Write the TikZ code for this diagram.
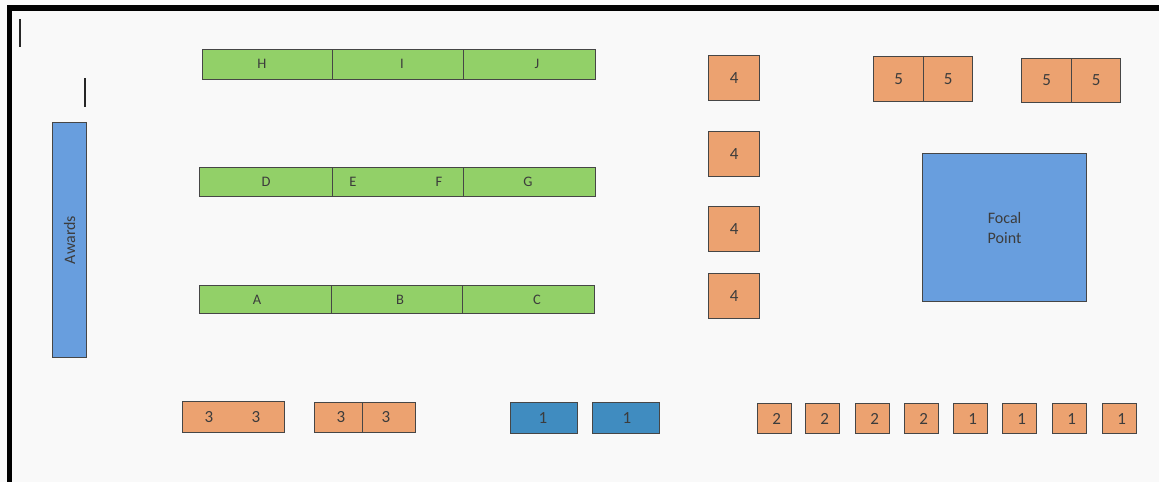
\documentclass[tikz,border=0pt]{standalone}
\usepackage{fontspec}
\setmainfont{Carlito}
\definecolor{grn}{RGB}{146,208,104}
\definecolor{org}{RGB}{236,162,112}
\definecolor{lblue}{RGB}{104,158,222}
\definecolor{dblue}{RGB}{64,140,192}
\definecolor{edge}{RGB}{70,70,70}
\definecolor{txt}{RGB}{60,60,60}
\definecolor{paper}{RGB}{249,249,249}
\begin{document}
\begin{tikzpicture}[x=1pt,y=-1pt,
  cell/.style={draw=edge, line width=1.1pt, inner sep=0pt, anchor=north west},
  lbl/.style={text=txt, inner sep=0pt, font=\fontsize{14.5}{16}\selectfont},
  num/.style={text=txt, inner sep=0pt, font=\fontsize{17}{19}\selectfont},
  big/.style={text=txt, inner sep=0pt, align=center, font=\fontsize{16}{20}\selectfont},
]
\fill[paper] (0,0) rectangle (1159,482);
\useasboundingbox (0,0) rectangle (1159,482);
% frame
\fill[black] (7,5) rectangle (1159,11);
\fill[black] (7,5) rectangle (12,482);
\coordinate (m1a) at (20,19); \coordinate (m1b) at (20,47);
\coordinate (m2a) at (85,78); \coordinate (m2b) at (85,107);
\draw[line width=1.2pt, black!85] (m1a) -- (m1b);
\draw[line width=1.2pt, black!85] (m2a) -- (m2b);

% Awards
\node[cell, fill=lblue, minimum width=34, minimum height=235] (awards) at (52,122) {};
\node[big, rotate=90] (awardsl) at (awards.center) {Awards};

% H I J
\node[cell, fill=grn, minimum width=130, minimum height=30] (h) at (202,49) {};
\node[cell, fill=grn, minimum width=131, minimum height=30] (i) at (332,49) {};
\node[cell, fill=grn, minimum width=132, minimum height=30] (j) at (463,49) {};
\node[lbl] (hl) at (262,64) {H};
\node[lbl] (il) at (402,64) {I};
\node[lbl] (jl) at (537,64) {J};

% D EF G
\node[cell, fill=grn, minimum width=133, minimum height=29] (d) at (199,167) {};
\node[cell, fill=grn, minimum width=131, minimum height=29] (ef) at (332,167) {};
\node[cell, fill=grn, minimum width=132, minimum height=29] (g) at (463,167) {};
\node[lbl] (dl) at (266,182) {D};
\node[lbl] (el) at (353,182) {E};
\node[lbl] (fl) at (439,182) {F};
\node[lbl] (gl) at (528,182) {G};

% A B C
\node[cell, fill=grn, minimum width=132, minimum height=28] (a) at (199,285) {};
\node[cell, fill=grn, minimum width=131, minimum height=28] (b) at (331,285) {};
\node[cell, fill=grn, minimum width=132, minimum height=28] (c) at (462,285) {};
\node[lbl] (al) at (257,300) {A};
\node[lbl] (bl) at (400,300) {B};
\node[lbl] (cl) at (537,300) {C};

% 4 column
\node[cell, fill=org, minimum width=51, minimum height=45] (f1) at (708,55) {};
\node[cell, fill=org, minimum width=51, minimum height=45] (f2) at (708,131) {};
\node[cell, fill=org, minimum width=51, minimum height=45] (f3) at (708,206) {};
\node[cell, fill=org, minimum width=51, minimum height=45] (f4) at (708,273) {};
\foreach \n in {f1,f2,f3,f4} \node[num] (\n l) at (\n.center) {4};

% 5 pairs
\node[cell, fill=org, minimum width=50, minimum height=45] (p1) at (873,56) {};
\node[cell, fill=org, minimum width=49, minimum height=45] (p2) at (923,56) {};
\node[cell, fill=org, minimum width=50, minimum height=44] (p3) at (1021,58) {};
\node[cell, fill=org, minimum width=49, minimum height=44] (p4) at (1071,58) {};
\foreach \n in {p1,p2,p3,p4} \node[num] (\n l) at (\n.center) {5};

% Focal Point
\node[cell, fill=lblue, minimum width=164, minimum height=148] (focal) at (922,153) {};
\node[big] (focall) at (focal.center) {Focal\\Point};

% bottom row: 3s
\node[cell, fill=org, minimum width=102, minimum height=31] (t1) at (182,401) {};
\node[num] (t1a) at (209,417) {3};
\node[num] (t1b) at (256,417) {3};
\node[cell, fill=org, minimum width=48, minimum height=30] (t2) at (314,402) {};
\node[cell, fill=org, minimum width=53, minimum height=30] (t3) at (362,402) {};
\node[num] (t2l) at (341,417) {3};
\node[num] (t3l) at (386,417) {3};

% blue 1s
\node[cell, fill=dblue, minimum width=67, minimum height=31] (u1) at (510,402) {};
\node[cell, fill=dblue, minimum width=67, minimum height=31] (u2) at (592,402) {};
\node[num] (u1l) at (543,418) {1};
\node[num] (u2l) at (627,418) {1};

% small squares
\foreach \x/\t/\k in {757/2/s1,805/2/s2,855/2/s3,904/2/s4,953/1/s5,1002/1/s6,1052/1/s7,1102/1/s8}{
  \node[cell, fill=org, minimum width=34, minimum height=30] (\k) at (\x,403) {};
  \node[num] (\k l) at ([xshift=2pt]\k.center) {\t};
}
\end{tikzpicture}
\end{document}
